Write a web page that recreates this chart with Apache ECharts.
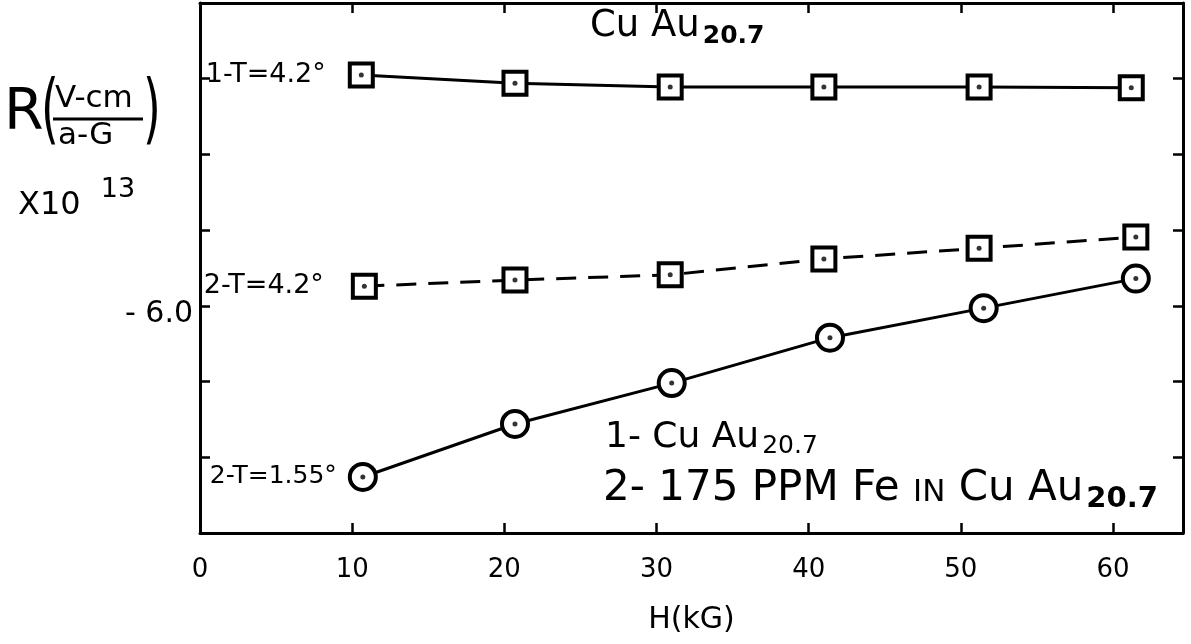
<!DOCTYPE html>
<html>
<head>
<meta charset="utf-8">
<script src="https://cdn.jsdelivr.net/npm/echarts@6/dist/echarts.min.js"></script>
<style>
  html, body { margin: 0; padding: 0; background: #fff; }
  #main { width: 1191px; height: 644px; }
</style>
</head>
<body>
<div id="main"></div>
<script>
// 数据 (H 单位 kG, R x10^13)
var h1 = [10.6, 20.7, 30.9, 41.0, 51.2, 61.2];
var r1 = [-5.695, -5.706, -5.711, -5.711, -5.711, -5.712];
var h2 = [10.8, 20.7, 30.9, 41.0, 51.2, 61.5];
var r2 = [-5.974, -5.966, -5.959, -5.938, -5.924, -5.909];
var h3 = [10.7, 20.7, 31.0, 41.4, 51.5, 61.5];
var r3 = [-6.226, -6.156, -6.102, -6.042, -6.003, -5.964];
var curveNames = ['1-T=4.2°', '2-T=4.2°', '2-T=1.55°'];

var xMin = 0, xMax = 64.6, xStep = 10;
var yMin = -6.3, yMax = -5.6, yStep = 0.1;

var FONT = 'DejaVu Sans';
var myChart = echarts.init(document.getElementById('main'));

function pairs(xs, ys) {
    return xs.map(function (x, i) { return [x, ys[i]]; });
}
// 第一个点带曲线名称
function withName(xs, ys, name, dist, size) {
    var d = pairs(xs, ys);
    d[0] = {
        value: d[0],
        label: {
            show: true, position: 'left', distance: dist,
            formatter: name, color: '#000', fontSize: size, fontFamily: FONT
        }
    };
    return d;
}

var frameLine = { show: true, onZero: false, lineStyle: { color: '#000', width: 3 } };
var frameTick = { show: true, inside: true, length: 10, lineStyle: { color: '#000', width: 2.5 } };

var option = {
    backgroundColor: '#fff',
    animation: false,
    grid: { left: 200, right: 8, top: 3, bottom: 111 },
    xAxis: [
        {
            type: 'value', min: xMin, max: xMax, interval: xStep,
            name: 'H(kG)', nameLocation: 'middle', nameGap: 72,
            nameTextStyle: { color: '#000', fontSize: 30, fontFamily: FONT },
            axisLine: frameLine, axisTick: frameTick, splitLine: { show: false },
            axisLabel: {
                color: '#000', fontSize: 26, fontFamily: FONT, margin: 24,
                formatter: function (v) { return v % 10 === 0 ? String(v) : ''; }
            }
        },
        {
            type: 'value', position: 'top', min: xMin, max: xMax, interval: xStep,
            axisLine: frameLine, axisTick: frameTick, splitLine: { show: false },
            axisLabel: { show: false }
        }
    ],
    yAxis: [
        {
            type: 'value', min: yMin, max: yMax, interval: yStep,
            axisLine: frameLine, axisTick: frameTick, splitLine: { show: false },
            axisLabel: {
                color: '#000', fontSize: 30, fontFamily: FONT, margin: 7,
                verticalAlign: 'top', lineHeight: 16,
                formatter: function (v) { return Math.abs(v + 6.0) < 1e-6 ? '- 6.0' : ''; }
            }
        },
        {
            type: 'value', position: 'right', min: yMin, max: yMax, interval: yStep,
            axisLine: frameLine, axisTick: frameTick, splitLine: { show: false },
            axisLabel: { show: false }
        }
    ],
    series: [
        {
            type: 'line', data: withName(h1, r1, curveNames[0], 22, 27),
            symbol: 'rect', symbolSize: 23,
            lineStyle: { color: '#000', width: 3 },
            itemStyle: { color: '#fff', borderColor: '#000', borderWidth: 4 }
        },
        {
            type: 'line', data: withName(h2, r2, curveNames[1], 27, 27),
            symbol: 'rect', symbolSize: 23,
            lineStyle: { color: '#000', width: 3, type: [20, 12] },
            itemStyle: { color: '#fff', borderColor: '#000', borderWidth: 4 }
        },
        {
            type: 'line', data: withName(h3, r3, curveNames[2], 11, 25),
            symbol: 'circle', symbolSize: 26,
            lineStyle: { color: '#000', width: 3 },
            itemStyle: { color: '#fff', borderColor: '#000', borderWidth: 4 }
        },
        // 中心小点
        {
            type: 'scatter', data: pairs(h1, r1).concat(pairs(h2, r2), pairs(h3, r3)),
            symbol: 'circle', symbolSize: 5, z: 5,
            itemStyle: { color: '#000' }
        }
    ],
    graphic: [
        // 标题
        {
            type: 'text', left: 590, top: 8,
            style: {
                text: '{m|Cu Au}{s|20.7}',
                rich: {
                    m: { fontSize: 37, fontFamily: FONT, fill: '#000' },
                    s: { fontSize: 25, fontFamily: FONT, fontWeight: 'bold', fill: '#000', padding: [20, 0, 0, 3] }
                }
            }
        },
        // y 轴名称
        { type: 'text', left: 4, top: 86, style: { text: 'R', fontSize: 57, fontFamily: FONT, fill: '#000' } },
        { type: 'text', left: 41, top: 76, scaleX: 0.6, style: { text: '(', fontSize: 76, fontFamily: FONT, fill: '#000' } },
        { type: 'text', left: 55, top: 83, style: { text: 'V-cm', fontSize: 31, fontFamily: FONT, fill: '#000' } },
        { type: 'line', shape: { x1: 53, y1: 119, x2: 143, y2: 119 }, style: { stroke: '#000', lineWidth: 3 } },
        { type: 'text', left: 58, top: 120, style: { text: 'a-G', fontSize: 31, fontFamily: FONT, fill: '#000' } },
        { type: 'text', left: 143, top: 76, scaleX: 0.6, style: { text: ')', fontSize: 76, fontFamily: FONT, fill: '#000' } },
        {
            type: 'text', left: 18, top: 176,
            style: {
                text: '{m|X10 }{s|13}',
                rich: {
                    m: { fontSize: 32, fontFamily: FONT, fill: '#000', padding: [16, 0, 0, 0] },
                    s: { fontSize: 27, fontFamily: FONT, fill: '#000', padding: [0, 0, 16, 10] }
                }
            }
        },
        // 图例说明
        {
            type: 'text', left: 605, top: 420,
            style: {
                text: '{m|1- Cu Au}{s|20.7}',
                rich: {
                    m: { fontSize: 36, fontFamily: FONT, fill: '#000' },
                    s: { fontSize: 25, fontFamily: FONT, fill: '#000', padding: [16, 0, 0, 3] }
                }
            }
        },
        {
            type: 'text', left: 603, top: 468,
            style: {
                text: '{m|2- 175 PPM Fe }{n|IN}{m| Cu Au}{s|20.7}',
                rich: {
                    m: { fontSize: 42, fontFamily: FONT, fill: '#000' },
                    n: { fontSize: 31, fontFamily: FONT, fill: '#000', padding: [8, 0, 0, 0] },
                    s: { fontSize: 29, fontFamily: FONT, fontWeight: 'bold', fill: '#000', padding: [20, 0, 0, 3] }
                }
            }
        }
    ]
};

myChart.setOption(option);
</script>
</body>
</html>
